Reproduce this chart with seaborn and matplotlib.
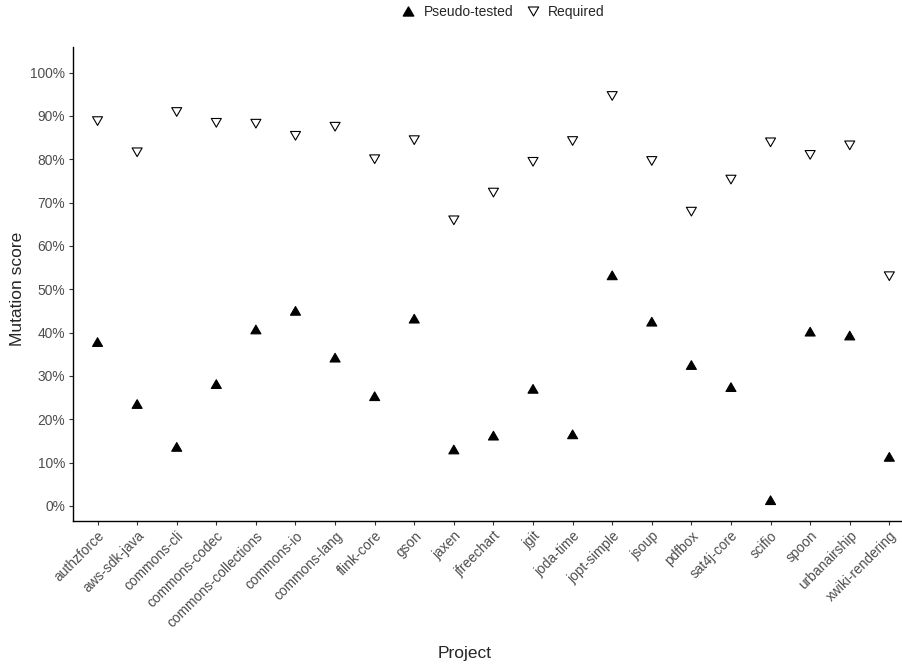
import pandas as pd
import matplotlib.pyplot as plt
import seaborn as sns
from matplotlib.lines import Line2D
from matplotlib.path import Path

# projects in axis order
projects = ["authzforce", "aws-sdk-java", "commons-cli", "commons-codec",
            "commons-collections", "commons-io", "commons-lang", "flink-core",
            "gson", "jaxen", "jfreechart", "jgit", "joda-time", "jopt-simple",
            "jsoup", "pdfbox", "sat4j-core", "scifio", "spoon", "urbanairship",
            "xwiki-rendering"]

# mutation scores (%)
pseudo_tested = [37.8, 23.5, 13.6, 28.1, 40.7, 45.0, 34.2, 25.3, 43.2, 13.0,
                 16.2, 27.0, 16.5, 53.2, 42.5, 32.5, 27.4, 1.3, 40.2, 39.3, 11.3]
required = [88.8, 81.6, 90.9, 88.4, 88.2, 85.4, 87.5, 80.0, 84.4, 65.9,
            72.3, 79.4, 84.2, 94.6, 79.6, 67.9, 75.3, 83.9, 81.0, 83.2, 53.0]

yticks = list(range(0, 101, 10))

df = pd.DataFrame({
    "Project": projects * 2,
    "Score": pseudo_tested + required,
    "Type": ["Pseudo-tested"] * len(projects) + ["Required"] * len(projects),
})

sns.set_theme(style="ticks")
plt.rcParams["font.family"] = ["Liberation Sans", "DejaVu Sans"]

# equilateral triangles like ggplot's shapes (closed paths)
tri_up = Path([(0, 0.433), (-0.5, -0.433), (0.5, -0.433), (0, 0.433)], closed=True)
tri_down = Path([(0, -0.433), (-0.5, 0.433), (0.5, 0.433), (0, -0.433)], closed=True)

fig = plt.figure(figsize=(9.02, 6.66), dpi=100)
ax = fig.add_axes([73 / 902, 1 - 521 / 666, 829 / 902, 474 / 666])

sns.scatterplot(data=df, x="Project", y="Score", hue="Type", style="Type",
                markers={"Pseudo-tested": tri_up, "Required": tri_down},
                palette={"Pseudo-tested": "black", "Required": "white"},
                edgecolor="black", linewidth=0.8, s=52, legend=False, ax=ax)

ax.set_xlim(-0.62, 20.32)
ax.set_ylim(-3.5, 105.9)
ax.set_yticks(yticks)
ax.set_yticklabels([f"{t}%" for t in yticks])

sns.despine(ax=ax)
for side in ["left", "bottom"]:
    ax.spines[side].set_linewidth(1.0)
    ax.spines[side].set_color("black")
ax.tick_params(axis="both", length=3, width=0.8, color="#333333",
               labelcolor="#4D4D4D", labelsize=9.9, pad=2.5)
plt.setp(ax.get_xticklabels(), rotation=45, ha="right", va="top",
         rotation_mode="anchor")

ax.set_xlabel("Project", fontsize=12.5)
ax.set_ylabel("Mutation score", fontsize=12.5)
ax.xaxis.set_label_coords(0.472, -0.263)
ax.yaxis.set_label_coords(-0.058, 0.49)

handles = [
    Line2D([], [], linestyle="none", marker=tri_up, color="black",
           markerfacecolor="black", markeredgecolor="black", markersize=7.5),
    Line2D([], [], linestyle="none", marker=tri_down, color="black",
           markerfacecolor="white", markeredgecolor="black", markersize=7.5,
           markeredgewidth=0.8),
]
fig.legend(handles, ["Pseudo-tested", "Required"], loc="center",
           bbox_to_anchor=(503 / 902, 1 - 12 / 666), ncol=2, frameon=False,
           fontsize=10, handlelength=1.0, handletextpad=0.6,
           columnspacing=0.9, borderpad=0)

fig.savefig("out.png", dpi=100)
